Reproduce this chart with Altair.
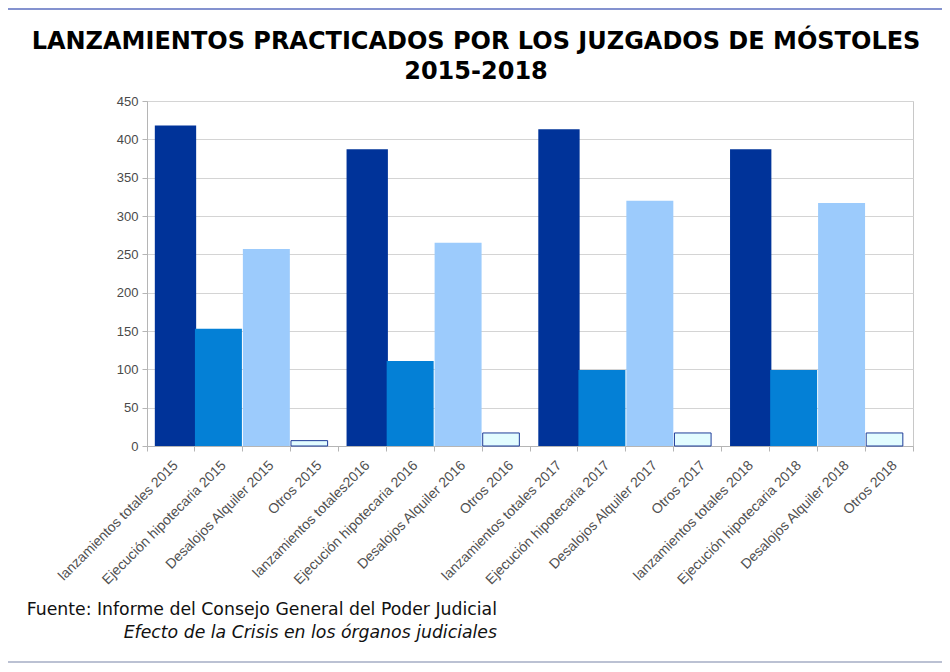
import altair as alt
import pandas as pd

categories = [
    "lanzamientos totales 2015", "Ejecución hipotecaria 2015", "Desalojos Alquiler 2015", "Otros 2015",
    "lanzamientos totales2016", "Ejecución hipotecaria 2016", "Desalojos Alquiler 2016", "Otros 2016",
    "lanzamientos totales 2017", "Ejecución hipotecaria 2017", "Desalojos Alquiler 2017", "Otros 2017",
    "lanzamientos totales 2018", "Ejecución hipotecaria 2018", "Desalojos Alquiler 2018", "Otros 2018",
]
kinds = ["Lanzamientos", "Ejecución", "Desalojos", "Otros"] * 4
values = [418, 153, 257, 7, 387, 111, 265, 17, 413, 99, 320, 17, 387, 99, 317, 17]

kind_domain = ["Lanzamientos", "Ejecución", "Desalojos", "Otros"]
kind_colors = ["#003399", "#0480d6", "#9ccbfc", "#e2fcff"]

title_lines = ["LANZAMIENTOS PRACTICADOS POR LOS JUZGADOS DE MÓSTOLES", "2015-2018"]
source_lines = ["Fuente: Informe del Consejo General del Poder Judicial",
                "Efecto de la Crisis en los órganos judiciales"]

df = pd.DataFrame({"cat": categories, "kind": kinds, "value": values})

W, H = 766, 345

x = alt.X("cat:N", sort=categories, title=None,
          scale=alt.Scale(paddingInner=0.02, paddingOuter=0),
          axis=alt.Axis(labelAngle=-45, labelFont="Liberation Sans", labelFontSize=14,
                        labelColor="#505050", tickBand="extent", tickSize=5,
                        tickColor="#b5b5b5", domainColor="#b5b5b5", labelPadding=7,
                        labelLimit=300))
y = alt.Y("value:Q", title=None,
          scale=alt.Scale(domain=[0, 450], nice=False),
          axis=alt.Axis(values=list(range(0, 451, 50)), labelFont="Liberation Sans",
                        labelFontSize=13, labelColor="#4a4a4a", tickSize=5,
                        tickColor="#b5b5b5", domainColor="#b5b5b5", gridColor="#d4d4d4",
                        labelPadding=4))
color = alt.Color("kind:N", scale=alt.Scale(domain=kind_domain, range=kind_colors), legend=None)

base = alt.Chart(df)
bars_dark = base.transform_filter(alt.datum.kind == "Lanzamientos").mark_bar(
    width=alt.RelativeBandSize(0.88), xOffset=5).encode(x=x, y=y, color=color)
bars_mid = base.transform_filter(
    (alt.datum.kind == "Ejecución") | (alt.datum.kind == "Desalojos")).mark_bar().encode(
    x=x, y=y, color=color)
bars_otros = base.transform_filter(alt.datum.kind == "Otros").mark_bar(
    width=alt.RelativeBandSize(0.78), xOffset=-5, stroke="#1f3d99", strokeWidth=1).encode(
    x=x, y=y, color=color)

title1 = alt.Chart(pd.DataFrame({"t": [title_lines[0]]})).mark_text(
    font="DejaVu Sans", fontWeight="bold", fontSize=24, align="center", baseline="alphabetic",
    color="#000000").encode(text="t:N", x=alt.value(329), y=alt.value(-52))
title2 = alt.Chart(pd.DataFrame({"t": [title_lines[1]]})).mark_text(
    font="DejaVu Sans", fontWeight="bold", fontSize=24, align="center", baseline="alphabetic",
    color="#000000").encode(text="t:N", x=alt.value(329), y=alt.value(-22))

src1 = alt.Chart(pd.DataFrame({"t": [source_lines[0]]})).mark_text(
    font="DejaVu Sans", fontSize=17.3, align="right", baseline="alphabetic",
    color="#111111").encode(text="t:N", x=alt.value(350), y=alt.value(514))
src2 = alt.Chart(pd.DataFrame({"t": [source_lines[1]]})).mark_text(
    font="DejaVu Sans", fontSize=17.3, fontStyle="italic", align="right", baseline="alphabetic",
    color="#111111").encode(text="t:N", x=alt.value(350), y=alt.value(537))

frame_df = pd.DataFrame({"k": [0]})
top_line = alt.Chart(frame_df).mark_rule(color="#5b6ebf", strokeWidth=1.5).encode(
    x=alt.value(-139), x2=alt.value(W + 29), y=alt.value(-92))
bottom_line = alt.Chart(frame_df).mark_rule(color="#a5acc5", strokeWidth=1.5).encode(
    x=alt.value(-139), x2=alt.value(W + 29), y=alt.value(H + 216))

chart = alt.layer(bars_dark, bars_mid, bars_otros, title1, title2, src1, src2,
                  top_line, bottom_line).properties(
    width=W, height=H,
    autosize=alt.AutoSizeParams(type="none"),
    padding={"left": 139, "top": 93, "right": 29, "bottom": 217},
    background="white",
).configure_view(stroke="#c8c8c8", strokeWidth=1)

chart.save("out.html", embed_options={"renderer": "svg", "actions": False})
